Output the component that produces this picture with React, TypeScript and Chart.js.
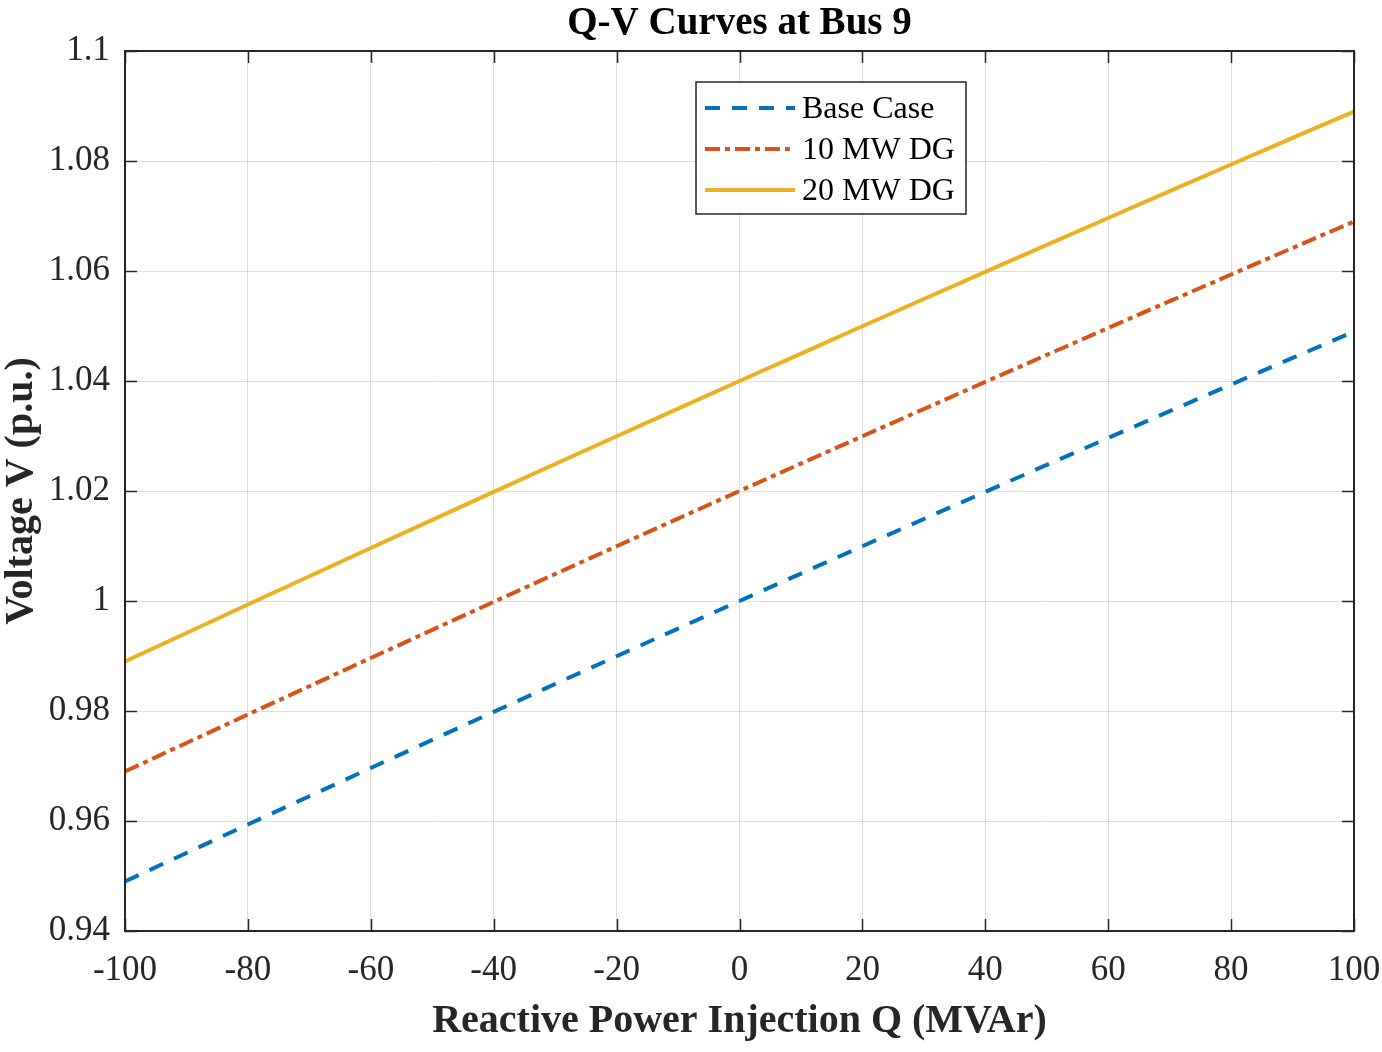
import React, { useEffect, useRef } from "react";
import { Chart, registerables } from "chart.js";

Chart.register(...registerables);

// ---- Data ----
const qValues = [-100, -90, -80, -70, -60, -50, -40, -30, -20, -10, 0, 10, 20, 30, 40, 50, 60, 70, 80, 90, 100];
const baseCase = [0.949, 0.95419, 0.95936, 0.96451, 0.96964, 0.97475, 0.97984, 0.98491, 0.98996, 0.99499, 1.0, 1.00499, 1.00996, 1.01491, 1.01984, 1.02475, 1.02964, 1.03451, 1.03936, 1.04419, 1.049];
const dg10 = [0.969, 0.97419, 0.97936, 0.98451, 0.98964, 0.99475, 0.99984, 1.00491, 1.00996, 1.01499, 1.02, 1.02499, 1.02996, 1.03491, 1.03984, 1.04475, 1.04964, 1.05451, 1.05936, 1.06419, 1.069];
const dg20 = [0.989, 0.99419, 0.99936, 1.00451, 1.00964, 1.01475, 1.01984, 1.02491, 1.02996, 1.03499, 1.04, 1.04499, 1.04996, 1.05491, 1.05984, 1.06475, 1.06964, 1.07451, 1.07936, 1.08419, 1.089];
const seriesLabels = ["Base Case", "10 MW DG", "20 MW DG"];
const xTicks = [-100, -80, -60, -40, -20, 0, 20, 40, 60, 80, 100];
const yTicks = [0.94, 0.96, 0.98, 1.0, 1.02, 1.04, 1.06, 1.08, 1.1];
const titleText = "Q-V Curves at Bus 9";
const xLabelText = "Reactive Power Injection Q (MVAr)";
const yLabelText = "Voltage V (p.u.)";

// ---- Styles ----
const COLORS = ["#0072BD", "#D95319", "#EDB120"];
const DASHES: number[][] = [[15, 12], [15, 5, 5, 5], []];
const SERIF = "'Liberation Serif', 'Times New Roman', serif";
const AXIS_COLOR = "#262626";
const W = 1382;
const H = 1052;

const toPoints = (ys: number[]) => qValues.map((q, i) => ({ x: q, y: ys[i] }));

const framePlugin = {
  id: "matlabFrame",
  afterDatasetsDraw(chart: any) {
    const { ctx, chartArea: a, scales } = chart;
    ctx.save();
    // inner ticks
    ctx.strokeStyle = AXIS_COLOR;
    ctx.lineWidth = 1.5;
    const tl = 12;
    ctx.beginPath();
    for (const v of xTicks) {
      const px = Math.round(scales.x.getPixelForValue(v)) + 0.5;
      ctx.moveTo(px, a.bottom);
      ctx.lineTo(px, a.bottom - tl);
      ctx.moveTo(px, a.top);
      ctx.lineTo(px, a.top + tl);
    }
    for (const v of yTicks) {
      const py = Math.round(scales.y.getPixelForValue(v)) + 0.5;
      ctx.moveTo(a.left, py);
      ctx.lineTo(a.left + tl, py);
      ctx.moveTo(a.right, py);
      ctx.lineTo(a.right - tl, py);
    }
    ctx.stroke();
    ctx.lineWidth = 2;
    ctx.strokeRect(a.left, a.top, a.right - a.left, a.bottom - a.top);

    // title
    ctx.fillStyle = "#000";
    ctx.textAlign = "center";
    ctx.textBaseline = "alphabetic";
    ctx.font = `bold 39px ${SERIF}`;
    ctx.fillText(titleText, (a.left + a.right) / 2, 34);

    // x label
    ctx.fillStyle = "#262626";
    ctx.font = `bold 40px ${SERIF}`;
    ctx.fillText(xLabelText, (a.left + a.right) / 2, 1032);

    // y label
    ctx.save();
    ctx.translate(32, (a.top + a.bottom) / 2);
    ctx.rotate(-Math.PI / 2);
    ctx.fillText(yLabelText, 0, 0);
    ctx.restore();

    // legend
    const bx = 696, by = 82, bw = 270, bh = 132;
    ctx.fillStyle = "#fff";
    ctx.fillRect(bx, by, bw, bh);
    ctx.strokeStyle = AXIS_COLOR;
    ctx.lineWidth = 1.5;
    ctx.strokeRect(bx, by, bw, bh);
    const rowY = [108, 149, 190];
    chart.data.datasets.forEach((ds: any, i: number) => {
      const y = rowY[i];
      ctx.save();
      ctx.strokeStyle = ds.borderColor;
      ctx.lineWidth = ds.borderWidth;
      ctx.setLineDash(ds.borderDash || []);
      ctx.lineCap = "butt";
      ctx.beginPath();
      ctx.moveTo(705, y);
      ctx.lineTo(795, y);
      ctx.stroke();
      ctx.restore();
      ctx.fillStyle = "#000";
      ctx.textAlign = "left";
      ctx.textBaseline = "middle";
      ctx.font = `32px ${SERIF}`;
      ctx.fillText(ds.label, 802, y + 2);
    });
    ctx.restore();
  },
};

export default function App() {
  const ref = useRef<HTMLCanvasElement | null>(null);

  useEffect(() => {
    if (!ref.current) return;
    const datasets = [baseCase, dg10, dg20].map((ys, i) => ({
      label: seriesLabels[i],
      data: toPoints(ys),
      borderColor: COLORS[i],
      backgroundColor: COLORS[i],
      borderWidth: 4,
      borderDash: DASHES[i],
      borderCapStyle: "butt" as const,
      pointRadius: 0,
      tension: 0,
      fill: false,
    }));
    const chart = new Chart(ref.current, {
      type: "line",
      data: { datasets },
      options: {
        animation: false,
        responsive: false,
        devicePixelRatio: 1,
        layout: { padding: { top: 51, right: 28, left: 0, bottom: 0 } },
        plugins: {
          legend: { display: false },
          title: { display: false },
          tooltip: { enabled: false },
        },
        scales: {
          x: {
            type: "linear",
            min: -100,
            max: 100,
            afterBuildTicks: (s: any) => {
              s.ticks = xTicks.map((v) => ({ value: v }));
            },
            afterFit: (s: any) => {
              s.height = H - 931;
              s.paddingRight = 0;
              s.paddingLeft = 0;
            },
            grid: { color: "rgba(0,0,0,0.13)", lineWidth: 1, drawTicks: false },
            border: { display: false },
            ticks: {
              color: "#262626",
              padding: 19,
              maxRotation: 0,
              autoSkip: false,
              font: { family: SERIF, size: 35 },
              callback: (v: any) => String(v),
            },
          },
          y: {
            type: "linear",
            min: 0.94,
            max: 1.1,
            afterBuildTicks: (s: any) => {
              s.ticks = yTicks.map((v) => ({ value: v }));
            },
            afterFit: (s: any) => {
              s.width = 125;
              s.paddingTop = 0;
              s.paddingBottom = 0;
            },
            grid: { color: "rgba(0,0,0,0.13)", lineWidth: 1, drawTicks: false },
            border: { display: false },
            ticks: {
              color: "#262626",
              padding: 15,
              autoSkip: false,
              font: { family: SERIF, size: 35 },
              callback: (v: any) => String(Number(Number(v).toFixed(2))),
            },
          },
        },
      },
      plugins: [framePlugin],
    });
    return () => chart.destroy();
  }, []);

  return (
    <div style={{ position: "fixed", left: 0, top: 0, width: W, height: H, background: "#fff" }}>
      <canvas ref={ref} width={W} height={H} style={{ width: W, height: H, display: "block" }} />
    </div>
  );
}
